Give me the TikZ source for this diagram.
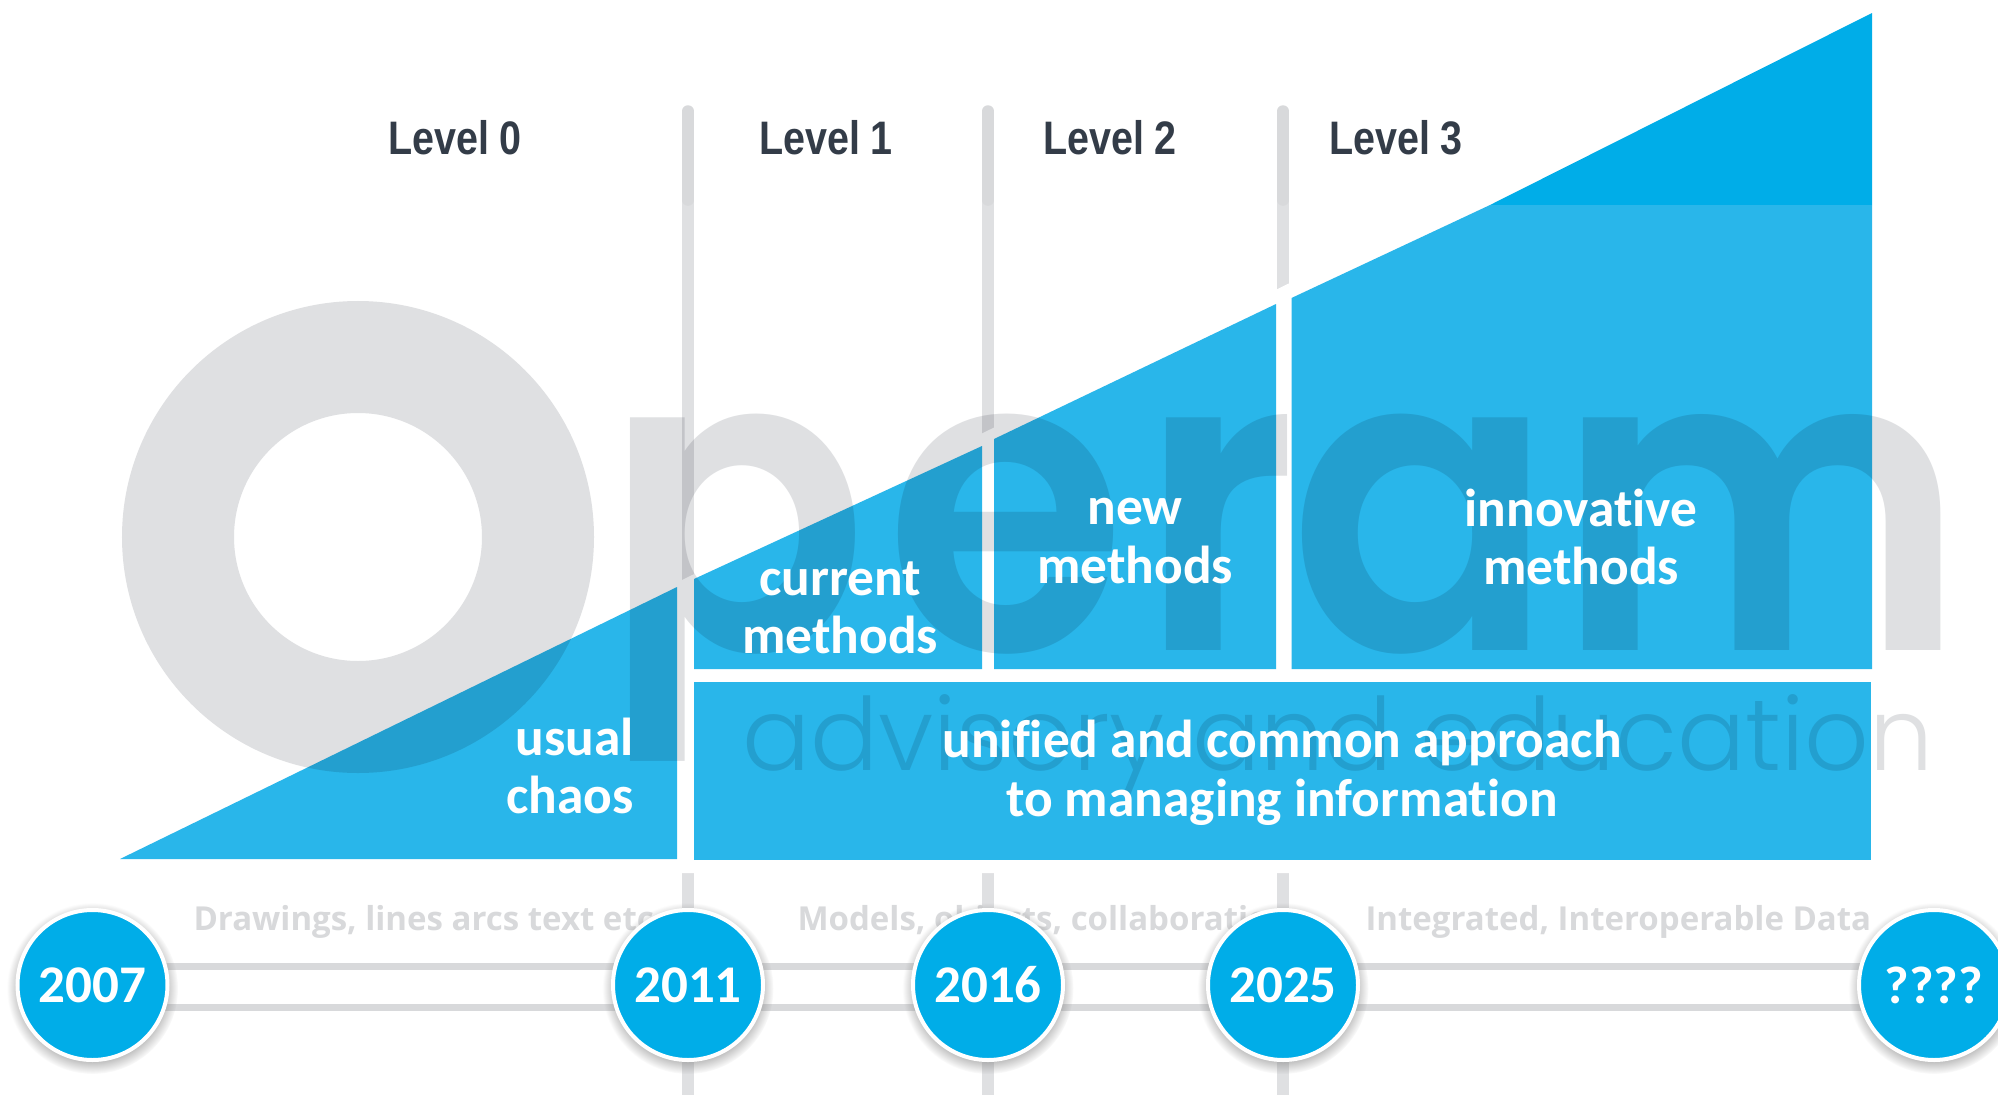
\documentclass[tikz,border=0pt]{standalone}
\usepackage{fontspec}
\usetikzlibrary{positioning, backgrounds, shadows}
\setmainfont[Ligatures=NoCommon]{Carlito}
\newfontfamily\levelfont[FakeStretch=0.84]{Liberation Sans}
\newfontfamily\logofont[FakeStretch=0.93]{Poppins SemiBold}
\newfontfamily\taglinefont{Poppins Light}
\newfontfamily\erafont{Open Sans}
\definecolor{opblue}{HTML}{00ADE8}
\definecolor{oppanel}{HTML}{29B6EA}
\definecolor{opgrey}{HTML}{DFE0E2}
\definecolor{oprail}{HTML}{D8D9DB}
\definecolor{opdark}{HTML}{333C48}

\begin{document}
\begin{tikzpicture}[
    x=1pt, y=-1pt,
    panel/.style={fill=oppanel},
    vline/.style={line width=11.5pt, color=opgrey},
    rail/.style={line width=7.5pt, color=oprail, double=white, double distance=33.5pt},
    year/.style={circle, fill=opblue, draw=white, line width=4pt, minimum size=150pt, inner sep=0pt, text=white, font=\fontsize{53}{60}\selectfont\bfseries, circular drop shadow={shadow scale=1.14, shadow xshift=0pt, shadow yshift=-3pt, opacity=.5}},
    label/.style={text=white, align=center, font=\fontsize{53.4}{58.6}\selectfont\bfseries},
    level/.style={text=opdark, font=\fontsize{47}{50}\selectfont\levelfont\bfseries},
    era/.style={text=oprail, anchor=west, font=\fontsize{33}{36}\selectfont\erafont\bfseries}
]
\useasboundingbox (0,0) rectangle (1998,1095);

% Vertical separators
\foreach \x in {688,988,1283} {
    \draw[vline] (\x,111) -- (\x,1095);
    \draw[vline, color=oprail, line cap=round] (\x,111) -- (\x,200);
}

% White band under the slope
\fill[white] (682,580) -- (1300,278) -- (1300,873) -- (682,873) -- cycle;

% Blue panels
\fill[opblue] (1490,205) -- (1872,13) -- (1872,205) -- cycle;
\fill[panel] (120,859) -- (677,587) -- (677,859) -- cycle;
\fill[panel] (694,579) -- (982,446) -- (982,669) -- (694,669) -- cycle;
\fill[panel] (994,439) -- (1276,304) -- (1276,669) -- (994,669) -- cycle;
\fill[panel] (1291.5,298) -- (1490,205) -- (1872,205) -- (1872,669) -- (1291.5,669) -- cycle;
\fill[panel] (694,682) rectangle (1871,860);

% Logo
\begin{scope}[blend mode=multiply]
    \draw[opgrey, line width=112pt] (358,537) circle (180);
    \node[anchor=base west, inner sep=0pt, text=opgrey, font=\fontsize{420}{420}\selectfont\logofont] (logo) at (603,650) {p\kern18pt e\kern13pt r\kern-8pt a\kern2pt m};
    \node[anchor=base west, inner sep=0pt, text=opgrey, font=\fontsize{101}{101}\selectfont\taglinefont] (tagline) at (742,770) {advisory and education};
\end{scope}

% Level labels
\node[level] (level0) at (455,138) {Level 0};
\node[level] (level1) at (826,138) {Level 1};
\node[level] (level2) at (1110,138) {Level 2};
\node[level] (level3) at (1396,138) {Level 3};

% Panel labels
\node[label, align=right, anchor=east] (chaos) at (637,766) {usual\\chaos};
\node[label] (current) at (840,608) {current\\methods};
\node[label] (new) at (1135,541) {new\\methods};
\node[label] (innovative) at (1581,537) {innovative\\methods};
\node[label] (unified) at (1282,773) {unified and common approach\\to managing information};

% Era captions
\node[era] (drawings) at (190,922) {Drawings, lines arcs text etc};
\node[era] (models) at (794,922) {Models, objects, collaboration};
\node[era] (integrated) at (1362,922) {Integrated, Interoperable Data};

% Timeline
\node[year] (y2007) at (92.5,985) {2007};
\node[year] (y2011) at (688,985) {2011};
\node[year] (y2016) at (988,985) {2016};
\node[year] (y2025) at (1283,985) {2025};
\node[year] (yend) at (1934,985) {????};

\begin{scope}[on background layer]
    \fill[white] (0,0) rectangle (1998,1095);
    \draw[rail] ([yshift=-2pt]y2007.center) -- ([yshift=-2pt]y2011.center);
    \draw[rail] ([yshift=-2pt]y2011.center) -- ([yshift=-2pt]y2016.center);
    \draw[rail] ([yshift=-2pt]y2016.center) -- ([yshift=-2pt]y2025.center);
    \draw[rail] ([yshift=-2pt]y2025.center) -- ([yshift=-2pt]yend.center);
\end{scope}

\end{tikzpicture}
\end{document}
